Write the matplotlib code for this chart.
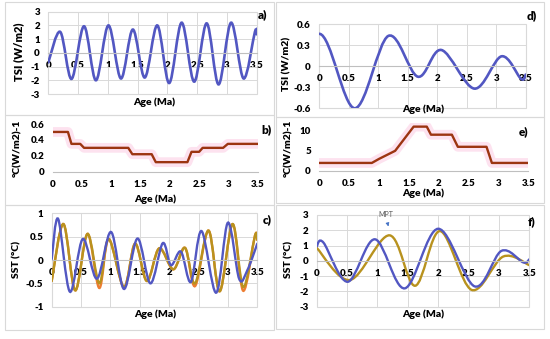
import numpy as np
import matplotlib
matplotlib.use('Agg')
import matplotlib.pyplot as plt
from matplotlib.path import Path
from matplotlib.patches import PathPatch, Rectangle
from matplotlib.ticker import FuncFormatter

plt.rcParams['font.family'] = ['Lato', 'DejaVu Sans']
plt.rcParams['font.weight'] = 'bold'

# ---- data ----
# a) TSI forcing (extrema)
age_a = [0, 0.2, 0.39, 0.6, 0.8, 1.01, 1.22, 1.42, 1.62, 1.83, 2.03, 2.24, 2.45, 2.66, 2.86, 3.07, 3.28, 3.47, 3.5]
tsi_a = [-0.7, 1.53, -1.9, 1.94, -2.0, 2.0, -1.87, 1.7, -1.8, 2.0, -2.2, 2.2, -2.1, 2.15, -2.3, 2.2, -1.87, 1.53, 1.35]

# b) sensitivity steps
age_b = [0, 0.26, 0.32, 0.47, 0.535, 1.29, 1.36, 1.69, 1.76, 2.3, 2.37, 2.5, 2.56, 2.91, 2.99, 3.5]
sens_b = [0.5, 0.5, 0.35, 0.35, 0.3, 0.3, 0.22, 0.22, 0.12, 0.12, 0.25, 0.25, 0.3, 0.3, 0.35, 0.35]

# c) SST, three series
age_c_blue = [0, 0.11, 0.31, 0.53, 0.77, 1.01, 1.23, 1.46, 1.68, 1.89, 2.03, 2.2, 2.37, 2.55, 2.8, 3.0, 3.19, 3.33, 3.5]
sst_c_blue = [0.02, 0.88, -0.68, 0.45, -0.4, 0.6, -0.62, 0.46, -0.5, 0.36, -0.11, 0.18, -0.47, 0.62, -0.7, 0.8, -0.4, -0.22, 0.35]
age_c_gold = [0, 0.2, 0.4, 0.61, 0.81, 0.97, 1.23, 1.42, 1.62, 1.83, 2.07, 2.27, 2.44, 2.67, 2.86, 3.08, 3.26, 3.46, 3.5]
sst_c_gold = [-0.45, 0.77, -0.65, 0.56, -0.5, 0.45, -0.58, 0.35, -0.45, 0.25, -0.2, 0.26, -0.5, 0.63, -0.67, 0.77, -0.58, 0.52, 0.43]
sst_c_orange = [-0.45, 0.77, -0.65, 0.56, -0.6, 0.45, -0.58, 0.35, -0.45, 0.25, -0.2, 0.26, -0.56, 0.63, -0.67, 0.77, -0.66, 0.52, 0.43]

# d) TSI forcing, long periods
age_d = [0, 0.6, 1.17, 1.67, 2.07, 2.63, 3.09, 3.42, 3.5]
tsi_d = [0.46, -0.6, 0.43, -0.15, 0.23, -0.32, 0.14, -0.18, -0.12]

# e) sensitivity
age_e = [0, 0.88, 1.0, 1.27, 1.58, 1.8, 1.87, 2.22, 2.32, 2.8, 2.89, 3.5]
sens_e = [2, 2, 3.0, 5, 11, 11, 9, 9, 6, 6, 2, 2]

# f) SST, two series
age_f_blue = [0, 0.11, 0.51, 0.96, 1.45, 2.0, 2.6, 3.04, 3.4, 3.5]
sst_f_blue = [0.95, 1.2, -1.37, 1.41, -1.8, 2.1, -1.67, 0.65, -0.1, 0.1]
age_f_gold = [0, 0.55, 1.2, 1.62, 2.03, 2.55, 3.07, 3.5]
sst_f_gold = [0.85, -1.25, 1.67, -1.63, 1.95, -1.9, 0.28, -0.28]

BLUE = '#5257C2'
GOLD = '#B8921E'
ORANGE = '#ED7D31'
BROWN = '#9C3511'
GRID = '#d9d9d9'

W, H = 550, 339
fig = plt.figure(figsize=(W / 100, H / 100), dpi=100)


def px_axes(l, t, r, b):
    return fig.add_axes([l / W, 1 - b / H, (r - l) / W, (b - t) / H])


def smooth(ax, x, y, flat_start=False, **kw):
    # Excel-style smoothed line through the read points
    x = np.asarray(x, float)
    y = np.asarray(y, float)
    n = len(x)
    verts = [(x[0], y[0])]
    codes = [Path.MOVETO]
    for i in range(n - 1):
        p0 = max(i - 1, 0)
        p3 = min(i + 2, n - 1)
        c1 = (x[i] + (x[i + 1] - x[p0]) / 6, y[i] + (y[i + 1] - y[p0]) / 6)
        if i == 0 and flat_start:
            c1 = (x[0] + (x[1] - x[0]) / 3, y[0])
        c2 = (x[i + 1] - (x[p3] - x[i]) / 6, y[i + 1] - (y[p3] - y[i]) / 6)
        verts += [c1, c2, (x[i + 1], y[i + 1])]
        codes += [Path.CURVE4] * 3
    ax.add_patch(PathPatch(Path(verts, codes), fill=False, capstyle='round', **kw))


fmt = FuncFormatter(lambda v, p: f'{v:g}')


def style(ax, ylim, yticks, grid=True):
    ax.set_xlim(0, 3.5)
    ax.set_ylim(*ylim)
    ax.set_xticks(np.arange(0, 3.51, 0.5))
    ax.set_yticks(yticks)
    ax.xaxis.set_major_formatter(fmt)
    ax.yaxis.set_major_formatter(fmt)
    ax.tick_params(length=0, labelsize=7, pad=6, colors='black')
    for s in ['top', 'right', 'left']:
        ax.spines[s].set_visible(False)
    ax.spines['bottom'].set_position(('data', 0))
    ax.spines['bottom'].set_color('#bfbfbf')
    ax.spines['bottom'].set_linewidth(0.8)
    if grid:
        ax.grid(True, color=GRID, lw=0.7)
        ax.patch.set_edgecolor(GRID)
        ax.patch.set_linewidth(0.8)
    ax.set_axisbelow(True)
    for lab in ax.get_xticklabels() + ax.get_yticklabels():
        lab.set_fontweight('heavy')


def label(x, y, s, rot=0, size=7.5):
    fig.text(x / W, 1 - y / H, s, rotation=rot, ha='center', va='center',
             fontsize=size, fontweight='heavy')


# panel frames
for l, t, r, b in [(5, 2, 274, 115), (5, 115, 274, 205), (5, 205, 274, 330),
                   (276, 2, 544, 117), (276, 117, 544, 203), (276, 205, 544, 329)]:
    fig.add_artist(Rectangle((l / W, 1 - b / H), (r - l) / W, (b - t) / H,
                             transform=fig.transFigure, fill=False, ec=GRID, lw=0.8))

# a)
ax = px_axes(48.3, 11.7, 256.7, 94)
style(ax, (-3, 3), range(-3, 4))
smooth(ax, age_a, tsi_a, color=BLUE, lw=1.9)
label(154, 102, 'Age (Ma)')
label(19, 52, 'TSI (W/m2)', rot=90, size=8)
label(263, 15, 'a)', size=8.5)

# b)
ax = px_axes(52.7, 124, 257.7, 171.7)
style(ax, (0, 0.6), [0, 0.2, 0.4, 0.6], grid=False)
ax.plot(age_b, sens_b, color='#fde2ef', lw=7, solid_joinstyle='round', zorder=1)
ax.plot(age_b, sens_b, color=BROWN, lw=1.7, solid_joinstyle='round', zorder=2)
label(155, 199, 'Age (Ma)')
label(18, 148, '°C(W/m2)-1', rot=90)
label(267, 130, 'b)', size=8.5)

# c)
ax = px_axes(51.7, 213.3, 257.3, 306.7)
style(ax, (-1, 1), [-1, -0.5, 0, 0.5, 1])
smooth(ax, age_c_gold, sst_c_orange, color=ORANGE, lw=1.7)
smooth(ax, age_c_gold, sst_c_gold, color=GOLD, lw=1.7)
smooth(ax, age_c_blue, sst_c_blue, color=BLUE, lw=1.7)
label(155, 314, 'Age (Ma)')
label(17, 260, 'SST (°C)', rot=90)
label(267, 220, 'c)', size=8.5)

# d)
ax = px_axes(319.3, 24, 525.7, 108.3)
style(ax, (-0.6, 0.6), [-0.6, -0.3, 0, 0.3, 0.6])
smooth(ax, age_d, tsi_d, flat_start=True, color=BLUE, lw=1.9)
label(423, 109, 'Age (Ma)')
label(287, 64, 'TSI (W/m2)', rot=90, size=7.5)
label(532, 16, 'd)', size=8.5)

# e)
ax = px_axes(319.3, 122.6, 528.3, 171)
style(ax, (0, 12), [0, 5, 10], grid=False)
ax.plot(age_e, sens_e, color='#fde2ef', lw=7, solid_joinstyle='round', zorder=1)
ax.plot(age_e, sens_e, color=BROWN, lw=1.7, solid_joinstyle='round', zorder=2)
label(423, 193, 'Age (Ma)')
label(289, 148, '°C(W/m2)-1', rot=90)
label(524, 132, 'e)', size=8.5)

# f)
ax = px_axes(316.7, 215, 529.3, 306.7)
style(ax, (-3, 3), range(-3, 4))
smooth(ax, age_f_gold, sst_f_gold, color=GOLD, lw=1.7)
smooth(ax, age_f_blue, sst_f_blue, color=BLUE, lw=1.7)
ax.annotate('MPT', xy=(1.18, 2.25), xytext=(1.13, 3.05), ha='center', va='center',
            fontsize=5, fontweight='normal', color='#595959', annotation_clip=False,
            arrowprops=dict(arrowstyle='-|>', color='#4472C4', lw=0.6, mutation_scale=5,
                            shrinkA=3, shrinkB=0))
label(423, 314, 'Age (Ma)')
label(289, 260, 'SST (°C)', rot=90)
label(532, 222, 'f)', size=8.5)

fig.savefig('out.png', dpi=100)
